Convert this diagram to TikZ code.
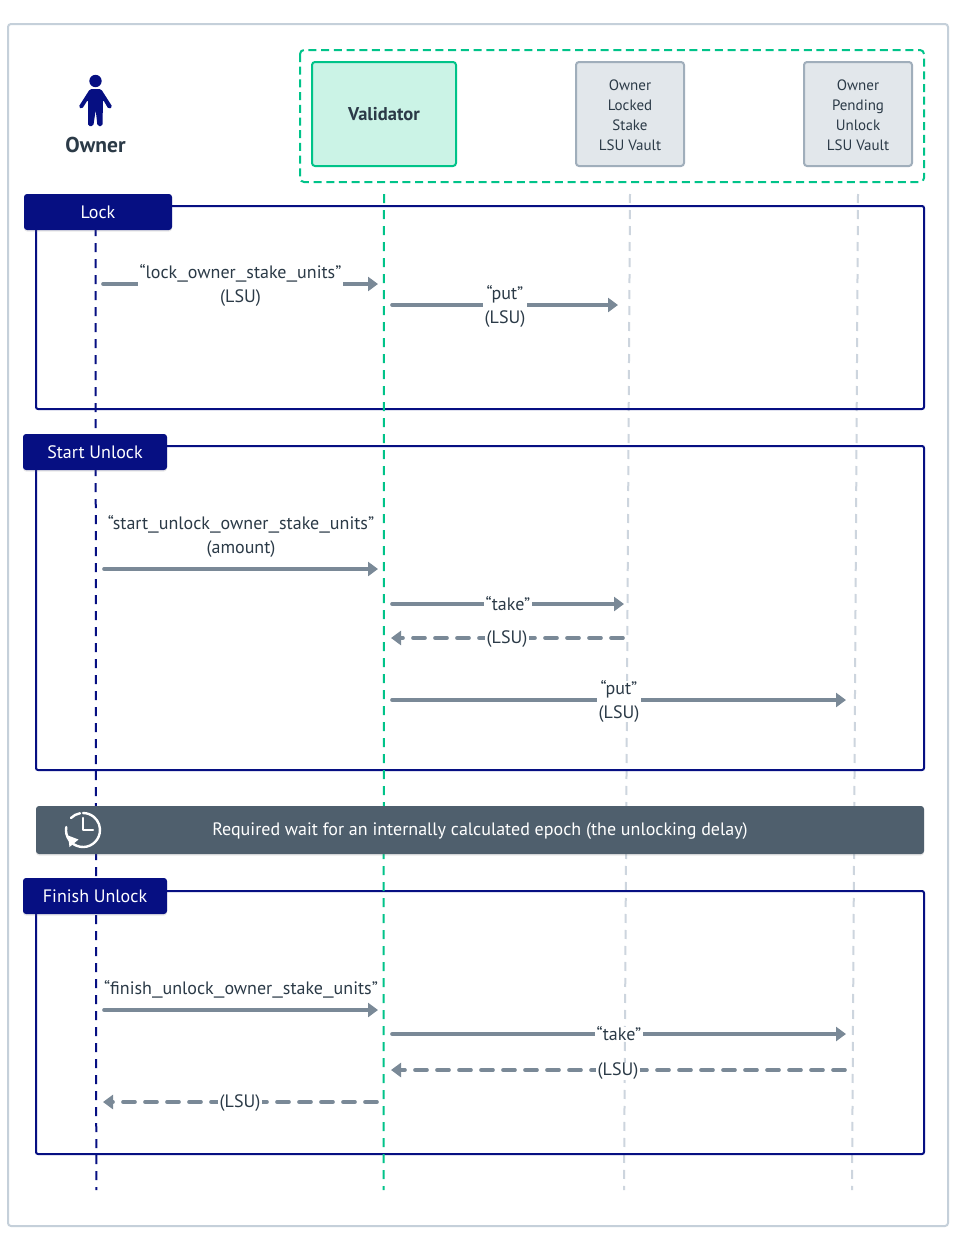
\documentclass[tikz,border=0pt]{standalone}
\usepackage{fontspec}
\usepackage{graphicx}
\setmainfont{PT Sans}
\usetikzlibrary{arrows.meta,shadows}
\newcommand{\wideus}{\scalebox{1.45}[1]{\_}}
\definecolor{navy}{HTML}{060F82}
\definecolor{mint}{HTML}{00C389}
\definecolor{mintfill}{HTML}{CBF3E6}
\definecolor{vaultfill}{HTML}{E2E7EB}
\definecolor{vaultline}{HTML}{A0AEBB}
\definecolor{arrowgray}{HTML}{7A8997}
\definecolor{ink}{HTML}{2B3A47}
\definecolor{bannerfill}{HTML}{4F5F6D}
\definecolor{outerline}{HTML}{C5D0DA}
\definecolor{lifegray}{HTML}{CDD5DE}
\tikzset{
  box/.style={rectangle,rounded corners=3pt,line width=2pt,align=center,inner sep=0pt,text=ink},
  vaulttext/.style={align=center,inner sep=0pt,text=ink,font=\fontsize{15}{20}\selectfont},
  msg/.style={line width=3.6pt,draw=arrowgray,line cap=round,-{Triangle[length=10pt,width=14pt]}},
  ret/.style={msg,dash pattern=on 12pt off 10pt},
  lab/.style={fill=white,text=ink,font=\fontsize{18}{24}\selectfont,align=center,inner xsep=2pt,inner ysep=0pt},
  lablow/.style={lab,yshift=-1.5pt},
  toplab/.style={text=ink,font=\fontsize{18}{24}\selectfont,align=center,inner sep=0pt},
  life/.style={line width=2pt,dash pattern=on 9pt off 7pt},
  frame/.style={draw=navy,line width=2pt,rounded corners=2pt},
  tab/.style={fill=navy,rounded corners=3pt,text=white,inner sep=0pt,font=\fontsize{18}{20}\selectfont,
    drop shadow={opacity=0.18,shadow xshift=0pt,shadow yshift=-1.5pt}},
}
\begin{document}
\begin{tikzpicture}[x=1pt,y=-1pt]
\useasboundingbox (0,0) rectangle (956,1234);
\fill[white] (0,0) rectangle (956,1234);
% outer panel
\draw[outerline,line width=2pt,rounded corners=3pt] (8,24) rectangle (948,1226);
% group of components
\draw[mint,line width=2pt,dash pattern=on 8pt off 4.7pt,rounded corners=4pt] (300,50) rectangle (924,182);
% participants
\fill[navy] (95.5,81) circle (6.2);
\fill[navy,rounded corners=1.6pt] (90,89) -- (101,89) -- (112.5,107) -- (108.5,109) -- (103,99.5) -- (102.5,126) -- (97.5,126) -- (95.7,110) -- (93.3,126) -- (88,126) -- (88,99.5) -- (82,109) -- (78.5,107) -- cycle;
\node[text=ink,inner sep=0pt,font=\fontsize{21.5}{24}\bfseries\selectfont] (owner) at (95.5,145) {Owner};
\node[box,draw=mint,fill=mintfill,minimum width=144pt,minimum height=104pt,font=\fontsize{18.5}{20}\bfseries\selectfont] (validator) at (384,114) {Validator};
\node[box,draw=vaultline,fill=vaultfill,minimum width=108pt,minimum height=104pt] (locked) at (630,114) {};
\node[vaulttext] (lockedtext) at (630,115) {Owner\\Locked\\Stake\\LSU Vault};
\node[box,draw=vaultline,fill=vaultfill,minimum width=108pt,minimum height=104pt] (pending) at (858,114) {};
\node[vaulttext] (pendingtext) at (858,115) {Owner\\Pending\\Unlock\\LSU Vault};
% lifeline ends
\coordinate (ot) at (95.5,195);  \coordinate (ob) at (96.3,1190);
\coordinate (vt) at (384,194);   \coordinate (vb) at (383.6,1190);
\coordinate (lt) at (630,194);   \coordinate (lb) at (624,1190);
\coordinate (pt) at (858,194);   \coordinate (pb) at (852,1190);
\draw[life,lifegray] (lt) -- (lb);
\draw[life,lifegray] (pt) -- (pb);
% frames
\draw[frame] (36,206) rectangle (924,409);
\draw[frame] (36,446) rectangle (924,770);
\draw[frame] (36,891) rectangle (924,1154);
\draw[life,navy] (ot) -- (ob);
\draw[life,mint] (vt) -- (vb);
% Lock
\coordinate (a1) at (103,284); \coordinate (a2) at (378,284);
\draw[msg] (a1) -- node[lablow,pos=0.5] (a12) {“lock\wideus owner\wideus stake\wideus units”\\(LSU)} (a2);
\coordinate (b1) at (392,305); \coordinate (b2) at (618,305);
\draw[msg] (b1) -- node[lablow,pos=0.5] (b12) {“put”\\(LSU)} (b2);
% Start Unlock
\coordinate (c1) at (104,569); \coordinate (c2) at (378,569);
\draw[msg] (c1) -- node[toplab,above=10pt,pos=0.5] (c12) {“start\wideus unlock\wideus owner\wideus stake\wideus units”\\(amount)} (c2);
\coordinate (d1) at (392,604); \coordinate (d2) at (624,604);
\draw[msg] (d1) -- node[lab,pos=0.5] (d12) {“take”} (d2);
\coordinate (e1) at (623,638); \coordinate (e2) at (391,638);
\draw[ret] (e1) -- node[lablow,pos=0.5] (e12) {(LSU)} (e2);
\coordinate (f1) at (392,700); \coordinate (f2) at (846,700);
\draw[msg] (f1) -- node[lablow,pos=0.5] (f12) {“put”\\(LSU)} (f2);
% Finish Unlock
\coordinate (g1) at (104,1010); \coordinate (g2) at (378,1010);
\draw[msg] (g1) -- node[toplab,above=10pt,pos=0.5] (g12) {“finish\wideus unlock\wideus owner\wideus stake\wideus units”} (g2);
\coordinate (h1) at (392,1034); \coordinate (h2) at (846,1034);
\draw[msg] (h1) -- node[lab,pos=0.5] (h12) {“take”} (h2);
\coordinate (i1) at (845,1070); \coordinate (i2) at (391,1070);
\draw[ret] (i1) -- node[lablow,pos=0.5] (i12) {(LSU)} (i2);
\coordinate (j1) at (377,1102); \coordinate (j2) at (103,1102);
\draw[ret] (j1) -- node[lablow,pos=0.5] (j12) {(LSU)} (j2);
% wait banner
\node[fill=bannerfill,rounded corners=3pt,minimum width=888pt,minimum height=48pt,inner sep=0pt,
  drop shadow={opacity=0.18,shadow xshift=0pt,shadow yshift=-1.5pt}] (wait) at (480,830) {};
\node[text=white,inner sep=0pt,font=\fontsize{18}{20}\selectfont] (waittext) at (480,831.5) {Required wait for an internally calculated epoch (the unlocking delay)};
% clock icon
\draw[white,line width=2.4pt,line cap=round] (83,830) ++(190:17) arc[start angle=190,delta angle=-280,radius=17];
\draw[white,line width=2.4pt,line cap=round] (83,830) ++(-100:17) arc[start angle=-100,delta angle=-35,radius=17];
\draw[white,line width=2.2pt,line cap=round,line join=round] (83,818) -- (83,830) -- (93,830);
\fill[white] (68,835.5) -- (78.5,839.5) -- (69.5,847) -- cycle;
% section tabs
\node[tab,minimum width=148pt,minimum height=36pt] (lock) at (98,212) {Lock};
\node[tab,minimum width=144pt,minimum height=36pt] (start) at (95,452) {Start Unlock};
\node[tab,minimum width=144pt,minimum height=36pt] (finish) at (95,896) {Finish Unlock};
\end{tikzpicture}
\end{document}
